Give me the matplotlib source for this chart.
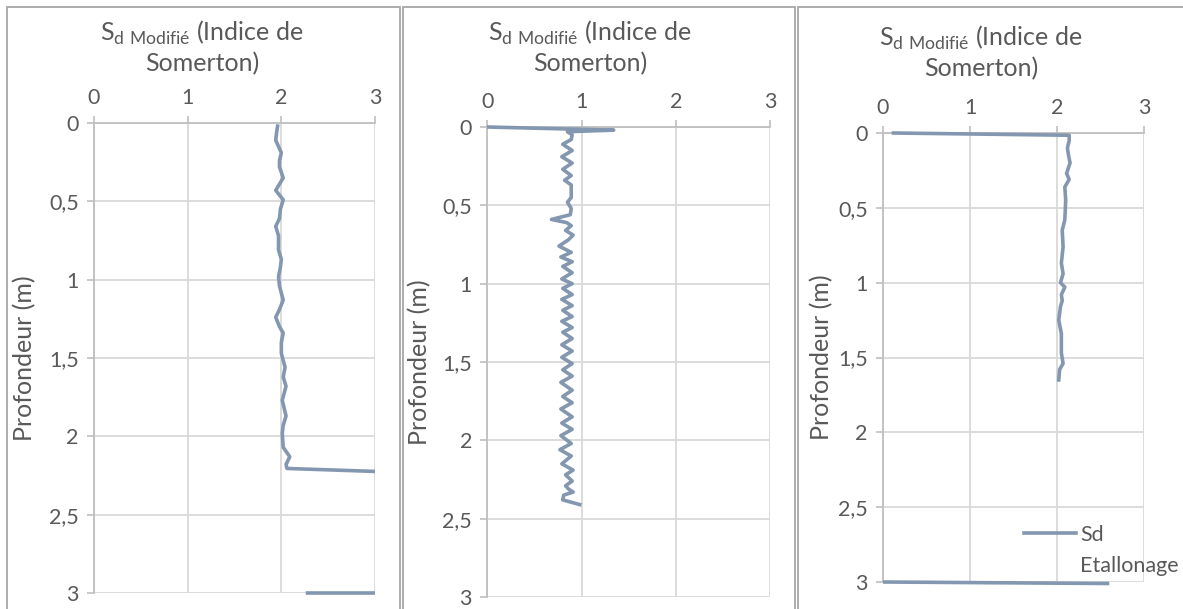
import numpy as np
import matplotlib
matplotlib.use('Agg')
import matplotlib.pyplot as plt
from matplotlib.patches import Rectangle
from matplotlib.lines import Line2D

plt.rcParams['font.family'] = ['Lato', 'DejaVu Sans']
plt.rcParams['mathtext.fontset'] = 'custom'
plt.rcParams['mathtext.rm'] = 'Lato'

nan = np.nan

# panel 1 : Sd vs depth
p1_depth = [0.02, 0.06, 0.11, 0.15, 0.19, 0.24, 0.28, 0.35, 0.43, 0.49, 0.55, 0.61,
            0.66, 0.72, 0.81, 0.87, 0.92, 0.98, 1.04, 1.13, 1.19, 1.24, 1.30, 1.34,
            1.40, 1.47, 1.56, 1.62, 1.68, 1.77, 1.87, 1.93, 1.98, 2.07, 2.13, 2.18,
            2.205, 2.23, nan, 3.0, 3.0]
p1_sd = [1.96, 1.95, 1.94, 1.97, 2.00, 1.98, 1.98, 2.02, 1.94, 2.02, 1.99, 1.98,
         1.94, 1.97, 1.97, 2.00, 1.99, 1.97, 1.98, 2.02, 1.98, 1.94, 1.98, 2.02,
         2.00, 2.00, 2.04, 2.02, 2.05, 2.01, 2.05, 2.02, 2.01, 2.02, 2.09, 2.05,
         2.06, 3.30, nan, 2.28, 3.30]

# panel 2
p2_depth = [0.00, 0.02, 0.03, 0.05, 0.08, 0.11, 0.15, 0.19, 0.23, 0.27, 0.31, 0.34,
            0.37, 0.45, 0.48, 0.52, 0.56, 0.59, 0.61, 0.63, 0.66, 0.69, 0.72, 0.76,
            0.80, 0.83, 0.86, 0.89, 0.93, 0.97, 1.00, 1.03, 1.07, 1.10, 1.14, 1.17,
            1.21, 1.24, 1.28, 1.31, 1.35, 1.39, 1.43, 1.47, 1.51, 1.55, 1.59, 1.63,
            1.68, 1.72, 1.76, 1.80, 1.85, 1.89, 1.93, 1.97, 2.02, 2.06, 2.10, 2.15,
            2.19, 2.22, 2.26, 2.29, 2.31, 2.33, 2.35, 2.38, 2.41]
p2_sd = [0.00, 1.34, 0.85, 0.90, 0.89, 0.80, 0.90, 0.79, 0.90, 0.80, 0.89, 0.82,
         0.89, 0.89, 0.85, 0.89, 0.88, 0.68, 0.84, 0.89, 0.83, 0.91, 0.86, 0.76,
         0.89, 0.78, 0.90, 0.80, 0.90, 0.79, 0.90, 0.80, 0.90, 0.79, 0.90, 0.80,
         0.90, 0.79, 0.90, 0.80, 0.90, 0.79, 0.90, 0.79, 0.90, 0.80, 0.90, 0.78,
         0.90, 0.80, 0.90, 0.78, 0.90, 0.79, 0.90, 0.78, 0.89, 0.77, 0.89, 0.79,
         0.91, 0.83, 0.90, 0.83, 0.86, 0.91, 0.81, 0.80, 0.98]

# panel 3 (Sd Etallonage)
p3_depth = [0.0, 0.015, 0.05, 0.10, 0.14, 0.20, 0.27, 0.31, 0.36, 0.45, 0.58, 0.65,
            0.76, 0.87, 0.94, 1.00, 1.03, 1.08, 1.12, 1.16, 1.25, 1.34, 1.47, 1.54,
            1.58, 1.65, nan, 3.0, 3.01]
p3_sd = [0.12, 2.14, 2.14, 2.12, 2.13, 2.15, 2.11, 2.14, 2.09, 2.10, 2.09, 2.06,
         2.07, 2.05, 2.07, 2.04, 2.09, 2.05, 2.06, 2.04, 2.02, 2.05, 2.05, 2.07,
         2.03, 2.02, nan, 0.0, 2.58]

x_ticks = [0, 1, 2, 3]
y_ticks = [0, 0.5, 1, 1.5, 2, 2.5, 3]
y_tick_labels = ['0', '0,5', '1', '1,5', '2', '2,5', '3']

TITLE = 'S$_{\\mathregular{d\\ Modifié}}$ (Indice de\nSomerton)'
LINE_COLOR = '#8497b0'
TEXT_COLOR = '#595959'
GRID_COLOR = '#d9d9d9'
AXIS_COLOR = '#bfbfbf'

fig = plt.figure(figsize=(11.83, 6.09), dpi=100)

# chart area borders (px)
for x0, x1 in [(7, 400), (403, 795), (798, 1190)]:
    fig.patches.append(Rectangle((x0 / 1183, -0.1), (x1 - x0) / 1183, 1.1 - 7 / 609,
                                 transform=fig.transFigure, fill=False,
                                 edgecolor='#a6a6a6', lw=1.3))

# plot areas in px : left, right, top, bottom
areas = [(94, 375, 123, 593), (487.3, 770.2, 127, 597), (883, 1144, 133, 582)]
datas = [(p1_sd, p1_depth), (p2_sd, p2_depth), (p3_sd, p3_depth)]
title_x = [202, 590, 981]
title_y = [19, 19, 24]
label_x = [-0.205, -0.198, -0.19]

for i in range(3):
    l, r, t, b = areas[i]
    ax = fig.add_axes([l / 1183, 1 - b / 609, (r - l) / 1183, (b - t) / 609])
    sd, depth = datas[i]
    line, = ax.plot(sd, depth, color=LINE_COLOR, lw=2.6, solid_joinstyle='round',
                    label='Sd', zorder=3)
    # let the line show its full width on the bottom edge
    line.set_clip_path(Rectangle((0, -0.1), 3, 3.13, transform=ax.transData))
    ax.set_xlim(0, 3)
    ax.set_ylim(3, 0)
    ax.xaxis.tick_top()
    ax.set_xticks(x_ticks)
    ax.set_yticks(y_ticks)
    ax.set_yticklabels(y_tick_labels)
    ax.tick_params(colors=AXIS_COLOR, labelcolor=TEXT_COLOR, labelsize=15.5,
                   length=5, width=1.2, pad=6)
    ax.grid(color=GRID_COLOR, lw=1.3)
    ax.set_axisbelow(True)
    for side in ['top', 'left']:
        ax.spines[side].set_color(AXIS_COLOR)
        ax.spines[side].set_linewidth(1.3)
    for side in ['right', 'bottom']:
        ax.spines[side].set_visible(False)
    ax.set_ylabel('Profondeur (m)', color=TEXT_COLOR, fontsize=18)
    ax.yaxis.set_label_coords(label_x[i], 0.5)

    fig.text(title_x[i] / 1183, 1 - title_y[i] / 609, TITLE, ha='center', va='top',
             color=TEXT_COLOR, fontsize=18, linespacing=1.25)

    if i == 2:
        blank = Line2D([], [], alpha=0)
        ax.legend([line, blank], ['Sd', 'Etallonage'], loc='upper left',
                  bbox_to_anchor=(0.54, 0.128), frameon=False, fontsize=15.5,
                  labelcolor=TEXT_COLOR, handlelength=2.4, handletextpad=0.2,
                  borderaxespad=0, borderpad=0, labelspacing=0.55)

fig.savefig('out.png', dpi=100)
